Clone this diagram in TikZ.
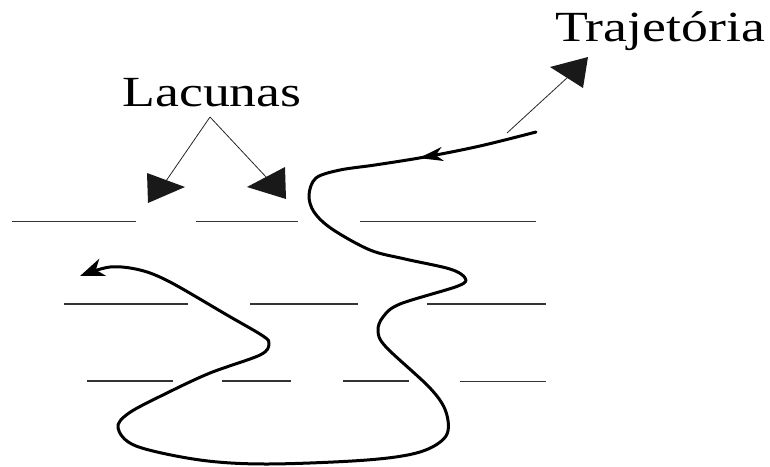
\documentclass[tikz,border=0pt]{standalone}
\usepackage{fontspec}
\setmainfont{Liberation Serif}
\usetikzlibrary{arrows.meta,decorations.markings}
\tikzset{
  label/.style={font=\fontsize{43}{50}\selectfont, text=black, inner sep=0pt, anchor=base, xscale=1.25},
  gapline/.style={line width=1.4pt, black!80},
  thin/.style={line width=0.8pt, black!85},
  head/.style={fill=black!90, draw=none},
  path/.style={line width=3pt, line cap=round, line join=round}
}
\begin{document}
\begin{tikzpicture}[x=1pt,y=-1pt]
\useasboundingbox (0,0) rectangle (770,466);
% labels
\node[label] (lac) at (212,106) {Lacunas};
\node[label] (traj) at (660,41) {Trajetória};
% horizontal lines
\coordinate (r1a) at (12,221.7); \coordinate (r1b) at (136,221.7);
\coordinate (r1c) at (196,221.7); \coordinate (r1d) at (298,221.7);
\coordinate (r1e) at (360,221.7); \coordinate (r1f) at (536,221.7);
\draw[gapline] (r1a) -- (r1b); \draw[gapline] (r1c) -- (r1d); \draw[gapline] (r1e) -- (r1f);
\coordinate (r2a) at (63.5,304); \coordinate (r2b) at (188,304);
\coordinate (r2c) at (250,304); \coordinate (r2d) at (358,304);
\coordinate (r2e) at (426.5,304); \coordinate (r2f) at (546,304);
\draw[gapline] (r2a) -- (r2b); \draw[gapline] (r2c) -- (r2d); \draw[gapline] (r2e) -- (r2f);
\coordinate (r3a) at (87,381); \coordinate (r3b) at (173,381);
\coordinate (r3c) at (222,381); \coordinate (r3d) at (291,381);
\coordinate (r3e) at (342.5,381); \coordinate (r3f) at (409,381);
\coordinate (r3g) at (460,381.5); \coordinate (r3h) at (546,381.5);
\draw[gapline] (r3a) -- (r3b); \draw[gapline] (r3c) -- (r3d); \draw[gapline] (r3e) -- (r3f); \draw[gapline] (r3g) -- (r3h);
% Lacunas pointers
\coordinate (apex) at (210,117);
\coordinate (lp) at (166,181);
\coordinate (rp) at (267,178);
\draw[thin] (apex) -- (lp);
\draw[thin] (apex) -- (rp);
\fill[head] (147,173) -- (185,187) -- (148,203) -- cycle;
\fill[head] (285,167) -- (286,199) -- (247,187) -- cycle;
% Trajetoria pointer
\coordinate (tp0) at (507,133);
\coordinate (tp1) at (568,77);
\draw[thin] (tp0) -- (tp1);
\fill[head] (550,67) -- (588,57) -- (583,88) -- cycle;
% trajectory
\draw[path, -{Stealth[length=24pt,width=18pt,inset=7pt]},
  postaction={decorate},
  decoration={markings, mark=at position 120pt with {\arrow{Stealth[length=24pt,width=14pt,inset=7pt]}}}]
  plot[smooth, tension=0.55] coordinates {
  (536,132) (480,146) (425,157) (375,165) (340,170) (316,178) (309,195) (314,212)
  (332,229) (370,250) (405,259) (450,269) (465,278) (458,286) (400,304) (383,317)
  (378,331) (386,347) (430,388) (446,412) (446,436) (420,452) (367,460) (267,464)
  (200,460) (136,446) (118,428) (129,413) (167,393) (210,373) (260,355) (269,344)
  (263,336) (227,315) (170,282) (140,270) (110,267) (80,276)};
\end{tikzpicture}
\end{document}
